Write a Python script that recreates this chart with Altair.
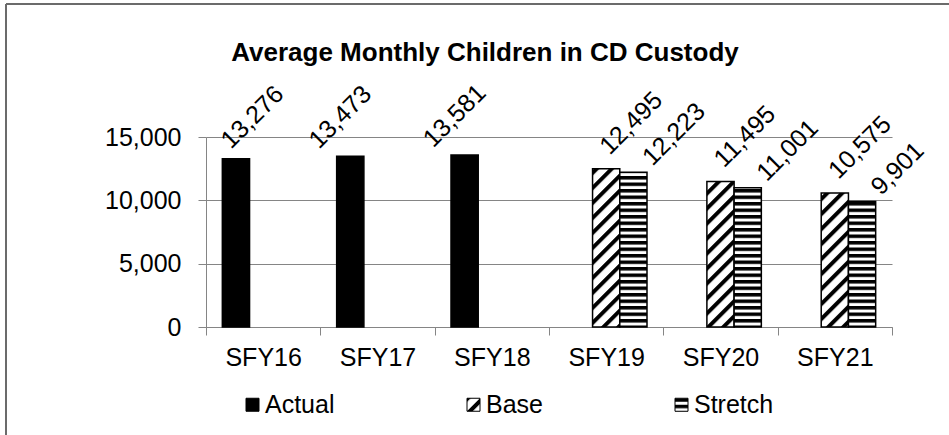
import altair as alt
import pandas as pd
from altair.utils import html as alt_html

# Fiscal years and the three series shown for them
years = ["SFY16", "SFY17", "SFY18", "SFY19", "SFY20", "SFY21"]
series = ["Actual", "Base", "Stretch"]
actual = [13276, 13473, 13581, None, None, None]
base = [None, None, None, 12495, 11495, 10575]
stretch = [None, None, None, 12223, 11001, 9901]

rows = []
for name, vals in zip(series, [actual, base, stretch]):
    for yr, v in zip(years, vals):
        if v is not None:
            rows.append({"year": yr, "series": name, "value": v})
df = pd.DataFrame(rows)

FONT = "Liberation Sans"
GRAY = "#858585"
FS = 25

# Black fill for actuals, hatch patterns (defined in the page) for projections
fills = ["black", "url(#hatchBase)", "url(#hatchStretch)"]

x_enc = alt.X(
    "year:N",
    sort=years,
    scale=alt.Scale(domain=years, paddingInner=0, paddingOuter=0),
    axis=alt.Axis(
        title=None,
        labelAngle=0,
        tickBand="extent",
        tickSize=8,
        tickColor=GRAY,
        domainColor=GRAY,
        labelFont=FONT,
        labelFontSize=FS,
        labelColor="black",
        labelPadding=10,
    ),
)
xoff_enc = alt.XOffset(
    "series:N", scale=alt.Scale(domain=series, paddingInner=0, paddingOuter=0.6)
)
y_enc = alt.Y(
    "value:Q",
    scale=alt.Scale(domain=[0, 15000], nice=False),
    axis=alt.Axis(
        title=None,
        values=[0, 5000, 10000, 15000],
        format=",.0f",
        grid=True,
        gridColor=GRAY,
        tickSize=8,
        tickColor=GRAY,
        domainColor=GRAY,
        labelFont=FONT,
        labelFontSize=FS,
        labelColor="black",
        labelPadding=17,
    ),
)

bars = alt.Chart(df).mark_bar(stroke="black", strokeWidth=1.5).encode(
    x=x_enc,
    xOffset=xoff_enc,
    y=y_enc,
    fill=alt.Fill(
        "series:N",
        scale=alt.Scale(domain=series, range=fills),
        legend=alt.Legend(
            title=None,
            orient="none",
            legendX=34,
            legendY=255,
            direction="horizontal",
            symbolType="square",
            symbolSize=169,
            symbolStrokeColor="black",
            symbolStrokeWidth=1,
            labelFont=FONT,
            labelFontSize=FS,
            labelColor="black",
            labelOffset=0,
            columnPadding=126,
        ),
    ),
)


def value_labels(test, dx, dy):
    """Rotated value labels above the bars selected by `test`."""
    return (
        alt.Chart(df)
        .transform_filter(test)
        .mark_text(
            angle=315,
            align="left",
            baseline="alphabetic",
            dx=dx,
            dy=dy,
            font=FONT,
            fontSize=FS,
            color="black",
        )
        .encode(
            x=alt.X("year:N", sort=years),
            xOffset=alt.XOffset("series:N"),
            y=alt.Y("value:Q"),
            text=alt.Text("value:Q", format=","),
        )
    )


# Actual labels sit left of their bars; the first one is kept inside the plot area
labels_actual = value_labels(
    "datum.series == 'Actual' && datum.year != 'SFY16'", -17.6, -26.8
)
labels_first = value_labels(
    "datum.series == 'Actual' && datum.year == 'SFY16'", 2.9, -9.8
)
labels_base = value_labels("datum.series == 'Base'", 11.7, -6.6)
labels_stretch = value_labels("datum.series == 'Stretch'", 17.2, 9.7)

# Chart-area frame (top and left edges)
frame_top = alt.Chart().mark_rule(color="#6b6b6b", strokeWidth=2).encode(
    x=alt.value(-200), x2=alt.value(760), y=alt.value(-133)
)
frame_left = alt.Chart().mark_rule(color="#6b6b6b", strokeWidth=2).encode(
    x=alt.value(-200), y=alt.value(-133), y2=alt.value(320)
)

chart = (
    alt.layer(
        bars,
        labels_actual,
        labels_first,
        labels_base,
        labels_stretch,
        frame_top,
        frame_left,
    )
    .properties(
        width=686,
        height=190,
        title=alt.TitleParams(
            "Average Monthly Children in CD Custody",
            font=FONT,
            fontSize=26,
            fontWeight="bold",
            color="black",
            anchor="middle",
            dx=-64,
            offset=-63,
        ),
        autosize=alt.AutoSizeParams(type="none"),
        padding={"left": 206, "top": 137, "right": 57, "bottom": 108},
    )
    .configure_view(stroke=None)
)

PATTERN_DEFS = """
<svg width="0" height="0" style="position:absolute">
  <defs>
    <pattern id="hatchBase" patternUnits="userSpaceOnUse" width="10.6" height="10.6" patternTransform="rotate(45)">
      <rect width="10.6" height="10.6" fill="white"/>
      <rect width="4" height="10.6" fill="black"/>
    </pattern>
    <pattern id="hatchStretch" patternUnits="userSpaceOnUse" width="8" height="6.5">
      <rect width="8" height="6.5" fill="white"/>
      <rect width="8" height="3.5" fill="black"/>
    </pattern>
  </defs>
</svg>
"""


class PatternPage:
    """Standard Altair page with the hatch pattern definitions added to the body."""

    def __init__(self, template, defs):
        self.template = template
        self.defs = defs

    def render(self, **kwargs):
        page = self.template.render(**kwargs)
        return page.replace("<body>", "<body>\n" + self.defs, 1)


chart.save(
    "out.html",
    embed_options={"renderer": "svg", "actions": False},
    template=PatternPage(alt_html.TEMPLATES["standard"], PATTERN_DEFS),
)
